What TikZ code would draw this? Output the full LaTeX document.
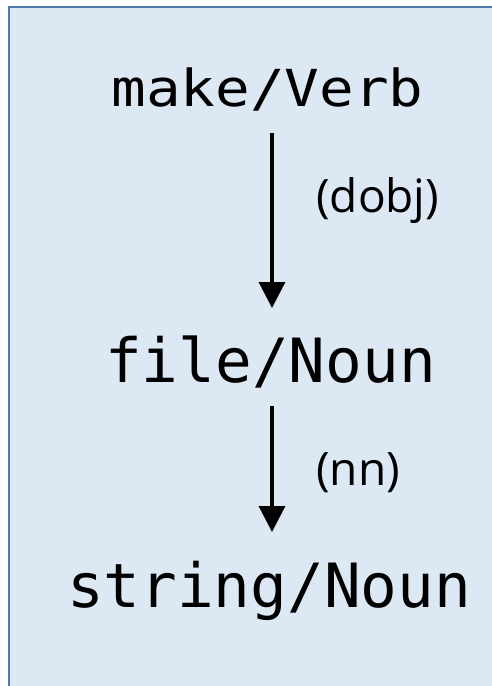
\documentclass[tikz,border=0pt]{standalone}
\usepackage{fontspec}
\usetikzlibrary{arrows.meta}

\newfontfamily\wordfont{DejaVu Sans Mono}
\newfontfamily\widewordfont[FakeStretch=1.13]{DejaVu Sans Mono}
\newfontfamily\relfont{Open Sans}
\definecolor{panelfill}{HTML}{DDE8F5}
\definecolor{panelline}{HTML}{4F7AAE}

\begin{document}
\begin{tikzpicture}[x=1pt, y=-1pt,
        word/.style={inner sep=0pt, anchor=base, font=\wordfont\fontsize{61}{61}\selectfont},
        rel/.style={inner sep=0pt, anchor=base west, font=\relfont\fontsize{46}{46}\selectfont},
        dep/.style={line width=3.3pt, -{Triangle[length=26pt, width=26pt]}}]
        \useasboundingbox (0,0) rectangle (492,686);
        \clip (0,0) rectangle (492,686);

        % Background panel (runs off the right and bottom edges)
        \draw[panelline, fill=panelfill, line width=2pt] (9,7) rectangle (530,730);

        % Words with their tags
        \node[word, font=\widewordfont\fontsize{51}{51}\selectfont] (verb) at (267.5,106) {make/Verb};
        \node[word] (file) at (270.5,382) {file/Noun};
        \node[word] (string) at (269,607) {string/Noun};

        % Dependency arrows
        \draw[dep] ([xshift=4.5pt, yshift=-27pt]verb.base) -- ([xshift=1.5pt, yshift=74pt]file.base);
        \draw[dep] ([xshift=1.5pt, yshift=-24pt]file.base) -- ([xshift=3pt, yshift=75pt]string.base);

        % Relation labels
        \node[rel] (dobj) at (316,212) {(dobj)};
        \node[rel] (nn) at (316,485) {(nn)};
    \end{tikzpicture}
\end{document}
